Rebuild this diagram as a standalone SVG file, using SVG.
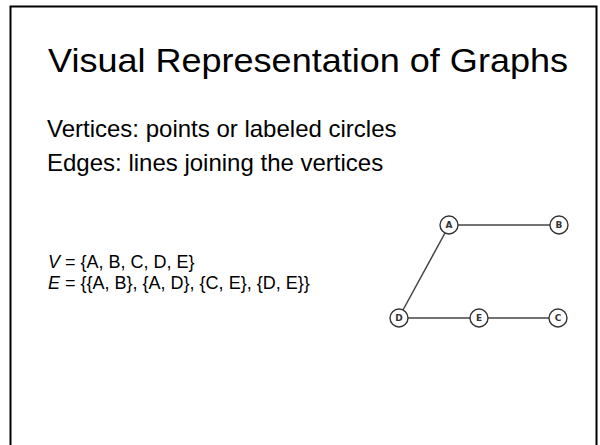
<svg xmlns="http://www.w3.org/2000/svg" width="600" height="445" viewBox="0 0 600 445">
<style>
.t{font-family:"Liberation Sans",Arial,sans-serif;fill:#000}
.node circle{fill:#fff;stroke:#333;stroke-width:1.4}
.node text{font-family:"DejaVu Sans",sans-serif;font-size:9px;font-weight:bold;fill:#333;text-anchor:middle}
.edges line{stroke:#444;stroke-width:1.5}
</style>
<rect x="0" y="0" width="600" height="445" fill="#fff"/>
<rect x="10.5" y="6.5" width="586" height="450" fill="#fff" stroke="#000" stroke-width="2"/>
<text class="t" x="48" y="72" font-size="32.5" textLength="520" lengthAdjust="spacingAndGlyphs">Visual Representation of Graphs</text>
<text class="t" x="47" y="137" font-size="24">Vertices: points or labeled circles</text>
<text class="t" x="47" y="171" font-size="24">Edges: lines joining the vertices</text>
<text class="t" x="48" y="268" font-size="18"><tspan font-style="italic">V</tspan> = {A, B, C, D, E}</text>
<text class="t" x="48" y="289" font-size="18"><tspan font-style="italic">E</tspan> = {{A, B}, {A, D}, {C, E}, {D, E}}</text>
<g class="edges">
<line x1="458" y1="225" x2="550" y2="225"/>
<line x1="445" y1="233" x2="403" y2="310"/>
<line x1="408" y1="318" x2="470" y2="318"/>
<line x1="488" y1="318" x2="549" y2="318"/>
</g>
<g id="node-A" class="node"><circle cx="449" cy="225" r="9"/><text x="449" y="228.3">A</text></g>
<g id="node-B" class="node"><circle cx="559" cy="225" r="9"/><text x="559" y="228.3">B</text></g>
<g id="node-D" class="node"><circle cx="399" cy="318" r="9"/><text x="399" y="321.3">D</text></g>
<g id="node-E" class="node"><circle cx="479" cy="318" r="9"/><text x="479" y="321.3">E</text></g>
<g id="node-C" class="node"><circle cx="558" cy="318" r="9"/><text x="558" y="321.3">C</text></g>
</svg>
